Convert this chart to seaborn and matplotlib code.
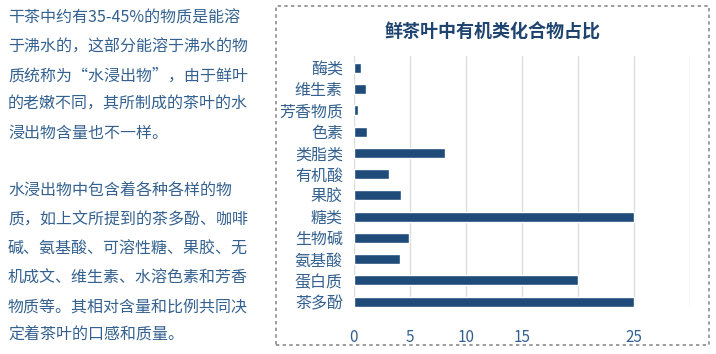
import matplotlib
matplotlib.use("Agg")
import matplotlib.pyplot as plt
import seaborn as sns
from matplotlib.patches import Rectangle

# ---- data ----
categories = ["酶类", "维生素", "芳香物质", "色素", "类脂类", "有机酸",
              "果胶", "糖类", "生物碱", "氨基酸", "蛋白质", "茶多酚"]
values = [0.6, 1.1, 0.4, 1.2, 8.1, 3.1, 4.2, 25, 4.9, 4.1, 20, 25]
xticks = [0, 5, 10, 15, 20, 25, 30]
xtick_labels = ["0", "5", "10", "15", "", "25", ""]
title = "鲜茶叶中有机类化合物占比"
para1 = ["干茶中约有35-45%的物质是能溶",
         "于沸水的，这部分能溶于沸水的物",
         "质统称为“水浸出物”，由于鲜叶",
         "的老嫩不同，其所制成的茶叶的水",
         "浸出物含量也不一样。"]
para2 = ["水浸出物中包含着各种各样的物",
         "质，如上文所提到的茶多酚、咖啡",
         "碱、氨基酸、可溶性糖、果胶、无",
         "机成文、维生素、水溶色素和芳香",
         "物质等。其相对含量和比例共同决",
         "定着茶叶的口感和质量。"]

sns.set_theme(style="white")
plt.rcParams['font.family'] = ['Noto Sans CJK SC', 'DejaVu Sans']

W, H = 716, 354
fig = plt.figure(figsize=(W / 100, H / 100), dpi=100)
fig.patch.set_facecolor("white")

text_color = "#34618F"
# left paragraphs
for i, line in enumerate(para1):
    y = 18 + i * 28.8
    fig.text(8 / W, 1 - y / H, line, fontsize=11.5, color=text_color,
             ha="left", va="center")
for i, line in enumerate(para2):
    y = 191.5 + i * 28.8
    fig.text(8 / W, 1 - y / H, line, fontsize=11.5, color=text_color,
             ha="left", va="center")

# dashed frame
fig.patches.append(Rectangle((276 / W, 1 - 345 / H), (709 - 276) / W, (345 - 6) / H,
                             transform=fig.transFigure, fill=False,
                             edgecolor="#8C8C8C", linewidth=1.2,
                             linestyle=(0, (2, 2))))

# chart
ax = fig.add_axes([354 / W, 1 - 307 / H, 336 / W, (307 - 56) / H])
sns.barplot(x=values, y=categories, orient="h", color="#1F4B7A",
            saturation=1, width=0.47, ax=ax, zorder=3)
ax.set_xlim(0, 30)
ax.set_ylim(11.25, -0.55)
ax.set_xticks(xticks)
ax.set_xticklabels(xtick_labels)
ax.grid(axis="x", color="#DCDCDC", linewidth=1, zorder=0)
ax.grid(axis="y", visible=False)
for s in ax.spines.values():
    s.set_visible(False)
ax.tick_params(axis="x", length=0, pad=16, labelsize=11, labelcolor="#34618F")
ax.tick_params(axis="y", length=0, pad=8, labelsize=11.5, labelcolor="#34618F")
ax.set_xlabel("")
ax.set_ylabel("")

fig.text(493 / W, 1 - 32 / H, title, fontsize=13, fontweight="bold",
         color="#1F4470", ha="center", va="center")

fig.savefig("out.png", dpi=100, facecolor="white")
